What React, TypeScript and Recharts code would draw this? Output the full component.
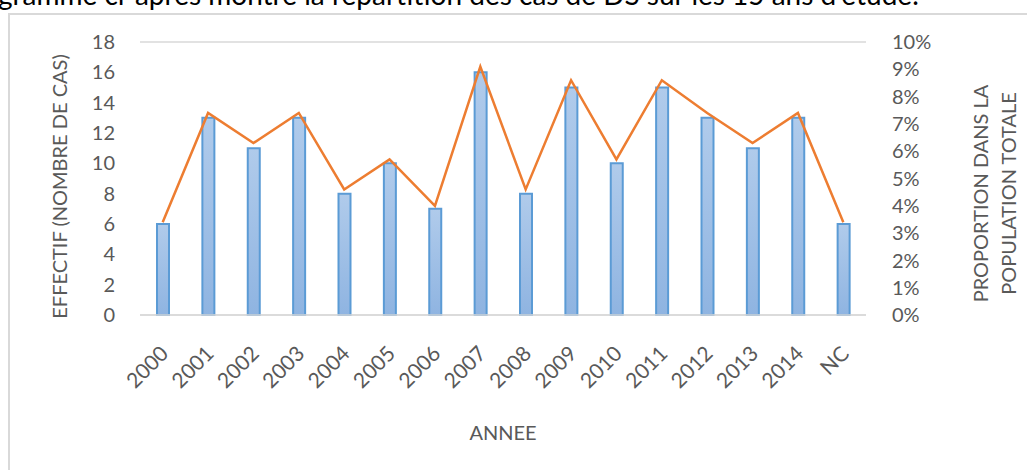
import { ComposedChart, Bar, Line, XAxis, YAxis, CartesianGrid } from 'recharts';

const annees = ['2000', '2001', '2002', '2003', '2004', '2005', '2006', '2007', '2008', '2009', '2010', '2011', '2012', '2013', '2014', 'NC'];
const effectif = [6, 13, 11, 13, 8, 10, 7, 16, 8, 15, 10, 15, 13, 11, 13, 6];
// proportion in %
const proportion = [3.4, 7.4, 6.3, 7.4, 4.6, 5.7, 4.0, 9.1, 4.6, 8.6, 5.7, 8.6, 7.4, 6.3, 7.4, 3.4];
const leftTicks = [0, 2, 4, 6, 8, 10, 12, 14, 16, 18];
const rightTicks = [0, 1, 2, 3, 4, 5, 6, 7, 8, 9, 10];

const FONT = 'Lato, "Open Sans", sans-serif';
const GREY = '#595959';

const data = annees.map((a, i) => ({ annee: a, effectif: effectif[i], proportion: proportion[i] }));

function YearTick(props: any) {
  const { x, y, payload } = props;
  const ax = x + 7;
  const ay = y + 40;
  return (
    <text
      x={ax}
      y={ay}
      transform={`rotate(-45 ${ax} ${ay})`}
      textAnchor="end"
      fill={GREY}
      fontSize={21}
      fontFamily={FONT}
    >
      {payload.value}
    </text>
  );
}

function LeftTitle(props: any) {
  const vb = props.viewBox;
  const cx = vb.x + 49;
  const cy = vb.y + vb.height / 2 + 8;
  return (
    <text x={cx} y={cy} transform={`rotate(-90 ${cx} ${cy})`} textAnchor="middle" dominantBaseline="central" fill={GREY} fontSize={20} fontFamily={FONT}>
      EFFECTIF (NOMBRE DE CAS)
    </text>
  );
}

function RightTitle(props: any) {
  const vb = props.viewBox;
  const cy = vb.y + vb.height / 2 + 15;
  const x1 = vb.x + 114;
  const x2 = vb.x + 142;
  return (
    <g fill={GREY} fontSize={20} fontFamily={FONT}>
      <text x={x1} y={cy} transform={`rotate(-90 ${x1} ${cy})`} textAnchor="middle" dominantBaseline="central">
        PROPORTION DANS LA
      </text>
      <text x={x2} y={cy} transform={`rotate(-90 ${x2} ${cy})`} textAnchor="middle" dominantBaseline="central">
        POPULATION TOTALE
      </text>
    </g>
  );
}

function XTitle(props: any) {
  const vb = props.viewBox;
  return (
    <text x={vb.x + vb.width / 2} y={vb.y + 117} textAnchor="middle" dominantBaseline="central" fill={GREY} fontSize={20} fontFamily={FONT}>
      ANNEE
    </text>
  );
}

export default function App() {
  return (
    <div style={{ position: 'absolute', left: 0, top: 0, width: 1027, height: 470, overflow: 'hidden', background: '#fff' }}>
      <div
        style={{
          position: 'absolute',
          left: -2,
          top: -23,
          whiteSpace: 'nowrap',
          fontFamily: FONT,
          fontSize: 28,
          color: '#000',
        }}
      >
        gramme ci-après montre la répartition des cas de DS sur les 15 ans d'étude.
      </div>
      <div
        style={{
          position: 'absolute',
          left: 8,
          top: 13,
          width: 1040,
          height: 480,
          border: '2px solid #d9d9d9',
          boxSizing: 'border-box',
          background: '#fff',
        }}
      >
        <ComposedChart width={1017} height={455} data={data} margin={{ top: 27, right: 0, bottom: 0, left: 0 }}>
          <defs>
            <linearGradient id="barFill" x1="0" y1="0" x2="0" y2="1">
              <stop offset="0%" stopColor="#b0cbeb" />
              <stop offset="100%" stopColor="#8fb4e1" />
            </linearGradient>
          </defs>
          <CartesianGrid vertical={false} stroke="#d9d9d9" strokeWidth={1.5} />
          <XAxis
            dataKey="annee"
            height={155}
            axisLine={{ stroke: '#d9d9d9', strokeWidth: 1.5 }}
            tickLine={false}
            tickSize={0}
            tickMargin={0}
            interval={0}
            tick={<YearTick />}
            label={<XTitle />}
          />
          <YAxis
            yAxisId="left"
            width={130}
            domain={[0, 18]}
            ticks={leftTicks}
            interval={0}
            axisLine={false}
            tickLine={false}
            tickSize={0}
            tickMargin={25}
            tick={{ fill: GREY, fontSize: 20, fontFamily: FONT }}
            label={<LeftTitle />}
          />
          <YAxis
            yAxisId="right"
            orientation="right"
            width={161}
            domain={[0, 10]}
            ticks={rightTicks}
            interval={0}
            tickFormatter={(v: number) => `${v}%`}
            axisLine={false}
            tickLine={false}
            tickSize={0}
            tickMargin={26}
            tick={{ fill: GREY, fontSize: 20, fontFamily: FONT, textAnchor: 'start' }}
            label={<RightTitle />}
          />
          <Bar
            yAxisId="left"
            dataKey="effectif"
            barSize={12}
            fill="url(#barFill)"
            stroke="#5b9bd5"
            strokeWidth={2}
            isAnimationActive={false}
          />
          <Line
            yAxisId="right"
            type="linear"
            dataKey="proportion"
            stroke="#ed7d31"
            strokeWidth={2.5}
            dot={false}
            activeDot={false}
            isAnimationActive={false}
          />
        </ComposedChart>
      </div>
    </div>
  );
}
